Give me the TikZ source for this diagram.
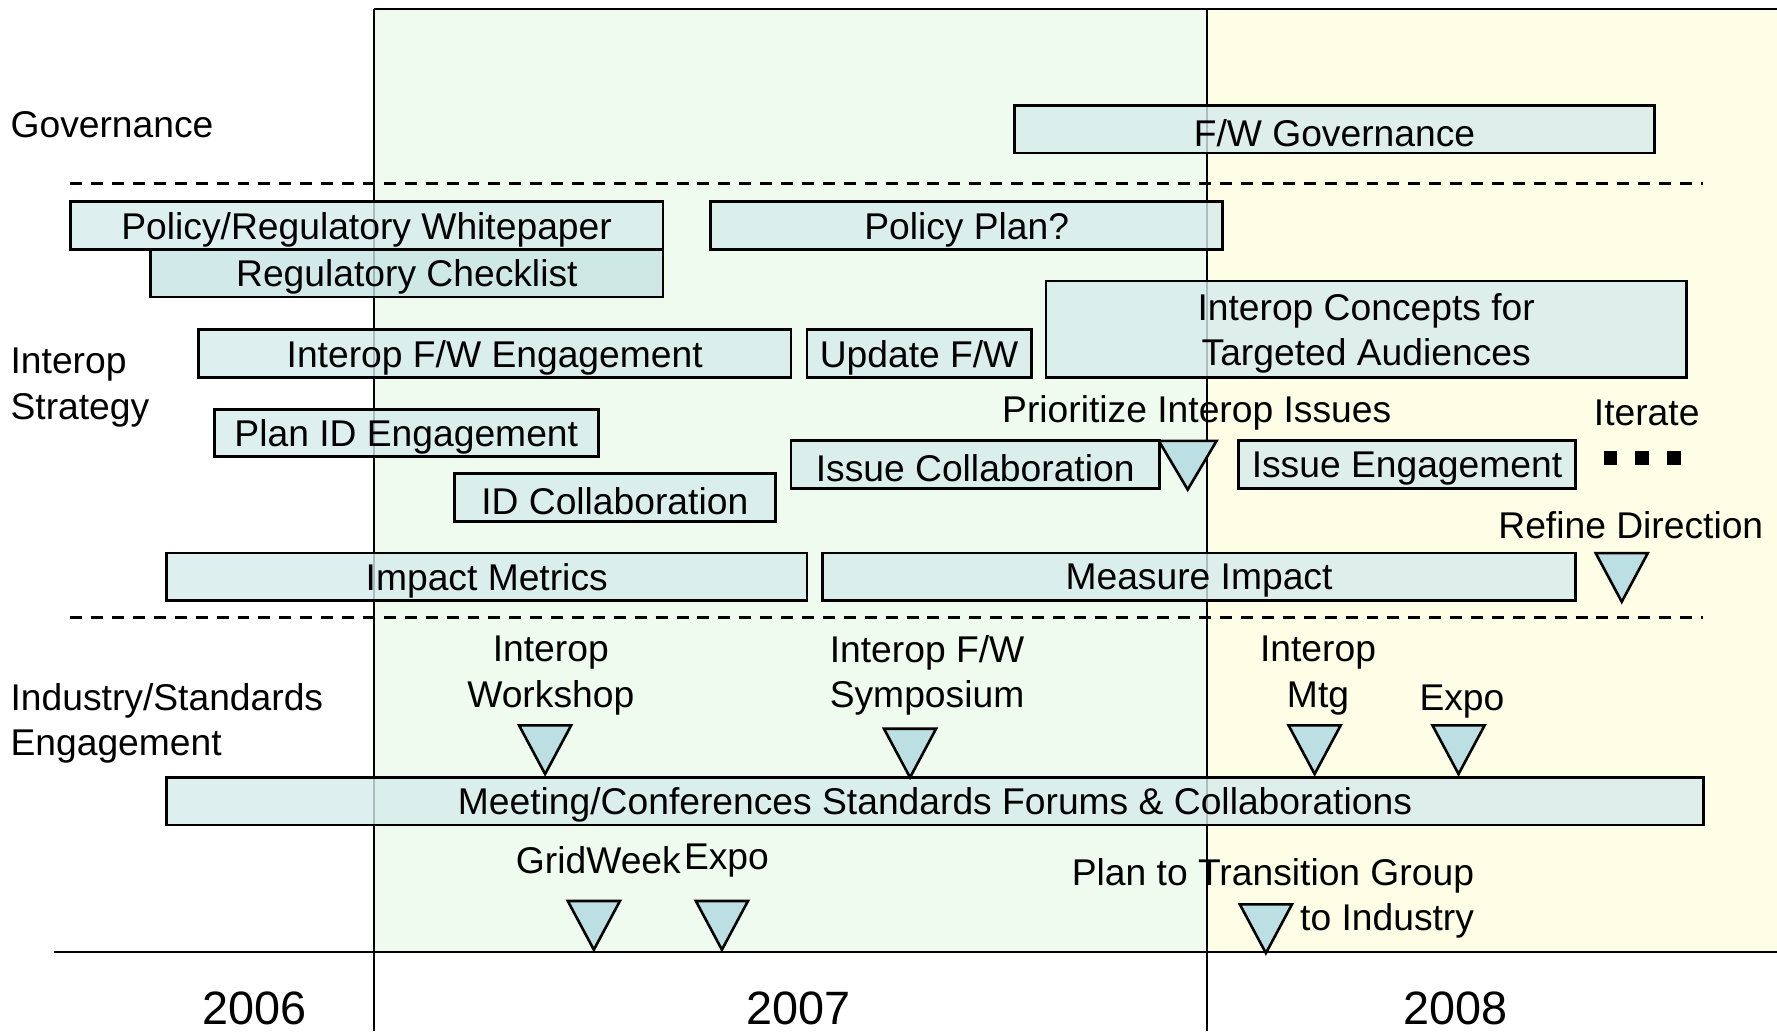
\documentclass[tikz,border=0pt]{standalone}
\usepackage{fontspec}
\setmainfont{Liberation Sans}
\usetikzlibrary{fit}
\definecolor{boxfill}{RGB}{214,235,235}
\definecolor{boxdark}{RGB}{198,228,228}
\definecolor{trifill}{RGB}{188,223,227}
\definecolor{greenbg}{RGB}{238,251,238}
\definecolor{yellowbg}{RGB}{254,254,230}
\tikzset{
  bar/.style={draw=black, line width=1.4pt, fill=boxfill, fill opacity=0.8, inner sep=0pt},
  darkbar/.style={bar, fill=boxdark},
  lbl/.style={inner sep=0pt, align=center},
  barlbl/.style={inner sep=0pt, align=center, yshift=-0.07cm},
  leftlbl/.style={inner sep=0pt, align=left, anchor=west},
  yearlbl/.style={inner sep=0pt, font=\fontsize{23.5}{28}\selectfont},
  sep/.style={dashed, dash pattern=on 6pt off 4.5pt, line width=1.2pt},
  frame/.style={line width=1.3pt},
  tri/.pic={\path[draw=black, line width=1.3pt, fill=trifill, line join=miter] (-23,0) -- (23,0) -- (0,43) -- cycle;},
  widetri/.pic={\path[draw=black, line width=1.3pt, fill=trifill, line join=miter] (-25.5,0) -- (25.5,0) -- (0,43) -- cycle;}
}
\begin{document}
\begin{tikzpicture}[x=0.02cm, y=-0.02cm, font=\fontsize{18.7}{22.7}\selectfont]
\useasboundingbox (0,0) rectangle (1568,910);
% backgrounds
\fill[greenbg] (330,8) rectangle (1065,840);
\fill[yellowbg] (1065,8) rectangle (1568,840);
% frame lines
\coordinate (ytop) at (330,8);
\coordinate (yright) at (1568,8);
\draw[frame] (ytop) -- (yright);
\draw[frame] (330,8) -- (330,910);
\draw[frame] (1065,8) -- (1065,910);
\draw[frame] (48,840) -- (1568,840);
% dashed separators
\draw[sep] (62,162) -- (1503,162);
\draw[sep] (62,545) -- (1503,545);
% row labels
\node[leftlbl] (lgov) at (9,110) {Governance};
\node[leftlbl] (lint) at (9,342) {Interop\\Strategy};
\node[leftlbl] (lind) at (9,638) {Industry/Standards\\Engagement};
% bars
\node[bar, fit={(895,93) (1460,135)}] (fwgov) {};
\node[barlbl] at (fwgov) {F/W Governance};
\node[bar, fit={(62,178) (585,220)}] (whitepaper) {};
\node[barlbl] at (whitepaper) {Policy/Regulatory Whitepaper};
\node[darkbar, fit={(133,220) (585,262)}] (checklist) {};
\node[barlbl] at (checklist) {Regulatory Checklist};
\node[bar, fit={(627,178) (1079,220)}] (policyplan) {};
\node[barlbl] at (policyplan) {Policy Plan?};
\node[bar, fit={(175,291) (698,333)}] (fweng) {};
\node[barlbl] at (fweng) {Interop F/W Engagement};
\node[bar, fit={(712,291) (910,333)}] (updfw) {};
\node[barlbl] at (updfw) {Update F/W};
\node[bar, fit={(923,248) (1488,333)}] (concepts) {};
\node[barlbl] at (concepts) {Interop Concepts for\\Targeted Audiences};
\node[bar, fit={(189,361) (528,403)}] (planid) {};
\node[barlbl] at (planid) {Plan ID Engagement};
\node[bar, fit={(698,389) (1023,431)}] (issuecol) {};
\node[barlbl] at (issuecol) {Issue Collaboration};
\node[bar, fit={(1093,389) (1390,431)}] (issueeng) {};
\node[barlbl] at (issueeng) {Issue Engagement};
\node[bar, fit={(401,418) (684,460)}] (idcol) {};
\node[barlbl] at (idcol) {ID Collaboration};
\node[bar, fit={(147,488) (712,530)}] (metrics) {};
\node[barlbl] at (metrics) {Impact Metrics};
\node[bar, fit={(726,488) (1390,530)}] (measure) {};
\node[barlbl] at (measure) {Measure Impact};
\node[bar, fit={(147,686) (1503,728)}] (meetings) {};
\node[barlbl] at (meetings) {Meeting/Conferences Standards Forums \& Collaborations};
% milestone triangles
\pic at (1048,389) {widetri};
\pic at (1431,488) {tri};
\pic at (481,640) {tri};
\pic at (803,643) {tri};
\pic at (1160,640) {tri};
\pic at (1287,640) {tri};
\pic at (524,795) {tri};
\pic at (637,795) {tri};
\pic at (1117,798) {tri};
% milestone labels
\node[lbl] (prio) at (1056,364) {Prioritize Interop Issues};
\node[lbl] (iter) at (1453,364) {Iterate};
\fill (1415,398) rectangle (1427,410);
\fill (1443,398) rectangle (1455,410);
\fill (1471,398) rectangle (1483,410);
\node[lbl] (refine) at (1439,463) {Refine Direction};
\node[lbl] (workshop) at (486,596) {Interop\\Workshop};
\node[lbl] (symp) at (818,596) {Interop F/W\\Symposium};
\node[lbl] (mtg) at (1163,596) {Interop\\Mtg};
\node[lbl] (expo1) at (1290,619) {Expo};
\node[lbl] (gridweek) at (528,759) {GridWeek};
\node[lbl] (expo2) at (641,759) {Expo};
\node[lbl, align=right, anchor=east] (transition) at (1301,793) {Plan to Transition Group\\to Industry};
% years
\node[yearlbl] (y2006) at (225,890) {2006};
\node[yearlbl] (y2007) at (705,890) {2007};
\node[yearlbl] (y2008) at (1284,890) {2008};
\end{tikzpicture}
\end{document}
